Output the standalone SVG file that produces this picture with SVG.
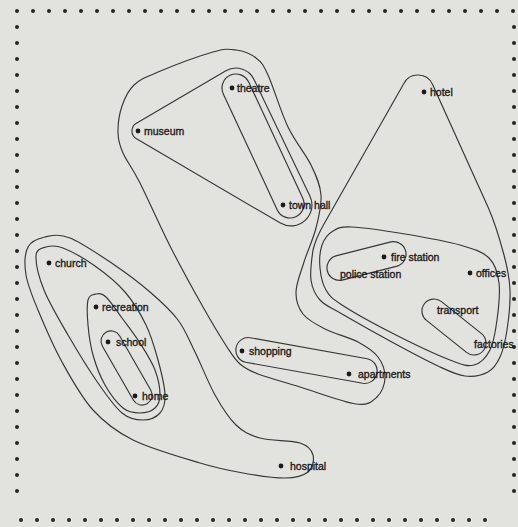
<svg xmlns="http://www.w3.org/2000/svg" width="518" height="527" viewBox="0 0 518 527">
<style>
.bg{fill:#e2e2df}
.set{fill:none;stroke:#363636;stroke-width:1.15}
.brd{stroke:#242424;stroke-width:4;stroke-linecap:round;stroke-dasharray:0 16;fill:none}
.dot{fill:#1a1a1a}
.lbl{font-family:"Liberation Sans",Arial,sans-serif;font-size:10.5px;fill:#1c1c1c;stroke:#1c1c1c;stroke-width:0.35}
</style>
<rect class="bg" x="0" y="0" width="518" height="527"/>
<g id="border">
<line class="brd" x1="17" y1="11" x2="514" y2="11"/>
<line class="brd" x1="17" y1="27" x2="17" y2="507"/>
<line class="brd" x1="21" y1="520" x2="501" y2="520"/>
<line class="brd" x1="514" y1="27" x2="514" y2="507"/>
</g>
<g id="connectors">
<path id="set-L1" class="set" d="M 118 133 C 117.8 125.2 119.3 114 122 106 C 124.7 98 128 90.7 134 85 C 140 79.3 144.8 77.5 158 72 C 171.2 66.5 200 55.7 213 52 C 226 48.3 228.8 49 236 50 C 243.2 51 250.7 53.8 256 58 C 261.3 62.2 262.7 63.5 268 75 C 273.3 86.5 280.8 112 288 127 C 295.2 142 305.5 153.7 311 165 C 316.5 176.3 320.2 184.5 321 195 C 321.8 205.5 318.8 216.8 316 228 C 313.2 239.2 307.3 251.3 304 262 C 300.7 272.7 296.2 283.3 296 292 C 295.8 300.7 298.2 307.8 303 314 C 307.8 320.2 315.8 324.3 325 329 C 334.2 333.7 349.2 337.3 358 342 C 366.8 346.7 373.5 351 378 357 C 382.5 363 385.2 371.3 385 378 C 384.8 384.7 381.8 392.7 377 397 C 372.2 401.3 368.8 405.7 356 404 C 343.2 402.3 316.3 392 300 387 C 283.7 382 268 377.8 258 374 C 248 370.2 245.2 368.5 240 364 C 234.8 359.5 233.2 356.5 227 347 C 220.8 337.5 212.5 323.8 203 307 C 193.5 290.2 180.5 266.7 170 246 C 159.5 225.3 147.8 198.5 140 183 C 132.2 167.5 126.7 161.3 123 153 C 119.3 144.7 118.2 140.8 118 133 Z"/>
<path id="set-M" class="set" d="M 136.4 123.2 L 225.9 70.8 A 20 20 0 0 1 254 79.4 L 309.9 195.9 A 21 21 0 0 1 280.4 223.1 L 136.5 138.8 A 9 9 0 0 1 136.4 123.2 Z"/>
<path id="set-T" class="set" d="M 248.7 82.1 L 302.7 198.1 A 14 14 0 0 1 277.3 209.9 L 223.3 93.9 A 14 14 0 0 1 248.7 82.1 Z"/>
<path id="set-SA" class="set" d="M 250.2 337.7 L 367.2 358.7 A 12.5 12.5 0 0 1 362.8 383.3 L 245.8 362.3 A 12.5 12.5 0 0 1 250.2 337.7 Z"/>
<path id="set-R1" class="set" d="M 403.7 83.7 A 16 16 0 0 1 432.6 84.5 L 488 207 C 494.8 222.2 500.3 241.2 504 255 C 507.7 268.8 509.5 277.5 510 290 C 510.5 302.5 508.7 318.8 507 330 C 505.3 341.2 503.2 350 500 357 C 496.8 364 493.8 368.8 488 372 C 482.2 375.2 473.3 377 465 376 C 456.7 375 450.5 371.8 438 366 C 425.5 360.2 406 349.7 390 341 C 374 332.3 353.7 320.8 342 314 C 330.3 307.2 325.2 305.7 320 300 C 314.8 294.3 312.2 288.3 311 280 C 309.8 271.7 311.8 258.3 313 250 C 315.2 240.7 320 231 324 224 Z"/>
<path id="set-R2" class="set" d="M 320 268 C 319.3 260.5 319.8 251.2 322 245 C 324.2 238.8 328 234 333 231 C 338 228 340 226.5 352 227 C 364 227.5 387 231 405 234 C 423 237 446 241 460 245 C 474 249 482.5 251.7 489 258 C 495.5 264.3 497.7 272.7 499 283 C 500.3 293.3 498.5 308.8 497 320 C 495.5 331.2 493.8 342.5 490 350 C 486.2 357.5 480.7 363.3 474 365 C 467.3 366.7 463.7 365.3 450 360 C 436.3 354.7 410 342.2 392 333 C 374 323.8 353 312.2 342 305 C 331 297.8 329.7 296.2 326 290 C 322.3 283.8 320.7 275.5 320 268 Z"/>
<path id="set-FP" class="set" d="M 335.9 255.9 L 390.9 241.9 A 12.5 12.5 0 0 1 397.1 266.1 L 342.1 280.1 A 12.5 12.5 0 0 1 335.9 255.9 Z"/>
<path id="set-TF" class="set" d="M 441.5 301.6 L 481.5 333.6 A 12 12 0 0 1 466.5 352.4 L 426.5 320.4 A 12 12 0 0 1 441.5 301.6 Z"/>
<path id="set-LH" class="set" d="M 28 247 C 31.2 240.7 38 238.5 45 237 C 52 235.5 58.7 233.5 70 238 C 81.3 242.5 99.7 255 113 264 C 126.3 273 139.2 282.7 150 292 C 160.8 301.3 170.5 310 178 320 C 185.5 330 188.8 339.5 195 352 C 201.2 364.5 208.2 382.8 215 395 C 221.8 407.2 228.5 417.8 236 425 C 243.5 432.2 249.3 435 260 438 C 270.7 441 291.2 440.2 300 443 C 308.8 445.8 311.7 450.2 313 455 C 314.3 459.8 312.7 468.2 308 472 C 303.3 475.8 295.8 477.8 285 478 C 274.2 478.2 257.2 475.5 243 473 C 228.8 470.5 218.3 468.5 200 463 C 181.7 457.5 150.8 448.8 133 440 C 115.2 431.2 104.8 423 93 410 C 81.2 397 71.2 378.7 62 362 C 52.8 345.3 44 324.5 38 310 C 32 295.5 27.7 285.5 26 275 C 24.3 264.5 24.8 253.3 28 247 Z"/>
<path id="set-LC" class="set" d="M 36 256 C 36.3 248.8 41.5 248.3 46 247 C 50.5 245.7 54.8 244.8 63 248 C 71.2 251.2 84.7 258.7 95 266 C 105.3 273.3 116.5 282.2 125 292 C 133.5 301.8 140.5 313.7 146 325 C 151.5 336.3 154.8 348.3 158 360 C 161.2 371.7 164.7 386.2 165 395 C 165.3 403.8 163.7 408.8 160 413 C 156.3 417.2 149.3 420 143 420 C 136.7 420 129.5 419.2 122 413 C 114.5 406.8 107 396 98 383 C 89 370 77 350.5 68 335 C 59 319.5 49.3 303.2 44 290 C 38.7 276.8 35.7 263.2 36 256 Z"/>
<path id="set-LR" class="set" d="M 88 300 C 89.3 294.8 93 294.5 96 294 C 99 293.5 101.7 293 106 297 C 110.3 301 116.3 310.3 122 318 C 127.7 325.7 134.5 334.3 140 343 C 145.5 351.7 151.7 361.3 155 370 C 158.3 378.7 160 388.7 160 395 C 160 401.3 158.3 405 155 408 C 151.7 411 145.3 413 140 413 C 134.7 413 128.8 412.7 123 408 C 117.2 403.3 110 393.8 105 385 C 100 376.2 95.8 365 93 355 C 90.2 345 88.8 334.2 88 325 C 87.2 315.8 86.7 305.2 88 300 Z"/>
<path id="set-LS" class="set" d="M 119.7 336 L 150.7 390 A 10 10 0 0 1 133.3 400 L 102.3 346 A 10 10 0 0 1 119.7 336 Z"/>
</g>
<g id="theatre"><circle class="dot" cx="232" cy="88" r="2.4"/><text class="lbl" x="237" y="91.5">theatre</text></g>
<g id="museum"><circle class="dot" cx="138" cy="131" r="2.4"/><text class="lbl" x="144" y="134.5">museum</text></g>
<g id="town-hall"><circle class="dot" cx="283" cy="205" r="2.4"/><text class="lbl" x="289" y="208.5">town hall</text></g>
<g id="hotel"><circle class="dot" cx="424" cy="92" r="2.4"/><text class="lbl" x="430" y="95.5">hotel</text></g>
<g id="fire-station"><circle class="dot" cx="384" cy="257" r="2.4"/><text class="lbl" x="391" y="260.5">fire station</text></g>
<g id="police-station"><text class="lbl" x="340" y="277.5">police station</text></g>
<g id="offices"><circle class="dot" cx="470" cy="273" r="2.4"/><text class="lbl" x="476" y="276.5">offices</text></g>
<g id="transport"><text class="lbl" x="437" y="313.5">transport</text></g>
<g id="factories"><text class="lbl" x="474" y="347.5">factories</text></g>
<g id="apartments"><circle class="dot" cx="349" cy="374" r="2.4"/><text class="lbl" x="358" y="377.5">apartments</text></g>
<g id="shopping"><circle class="dot" cx="242" cy="351" r="2.4"/><text class="lbl" x="249" y="354.5">shopping</text></g>
<g id="hospital"><circle class="dot" cx="281" cy="466" r="2.4"/><text class="lbl" x="290" y="469.5">hospital</text></g>
<g id="church"><circle class="dot" cx="49" cy="263" r="2.4"/><text class="lbl" x="55" y="266.5">church</text></g>
<g id="recreation"><circle class="dot" cx="96" cy="307" r="2.4"/><text class="lbl" x="102" y="310.5">recreation</text></g>
<g id="school"><circle class="dot" cx="108" cy="342" r="2.4"/><text class="lbl" x="116" y="345.5">school</text></g>
<g id="home"><circle class="dot" cx="135" cy="396" r="2.4"/><text class="lbl" x="142" y="399.5">home</text></g>
</svg>
